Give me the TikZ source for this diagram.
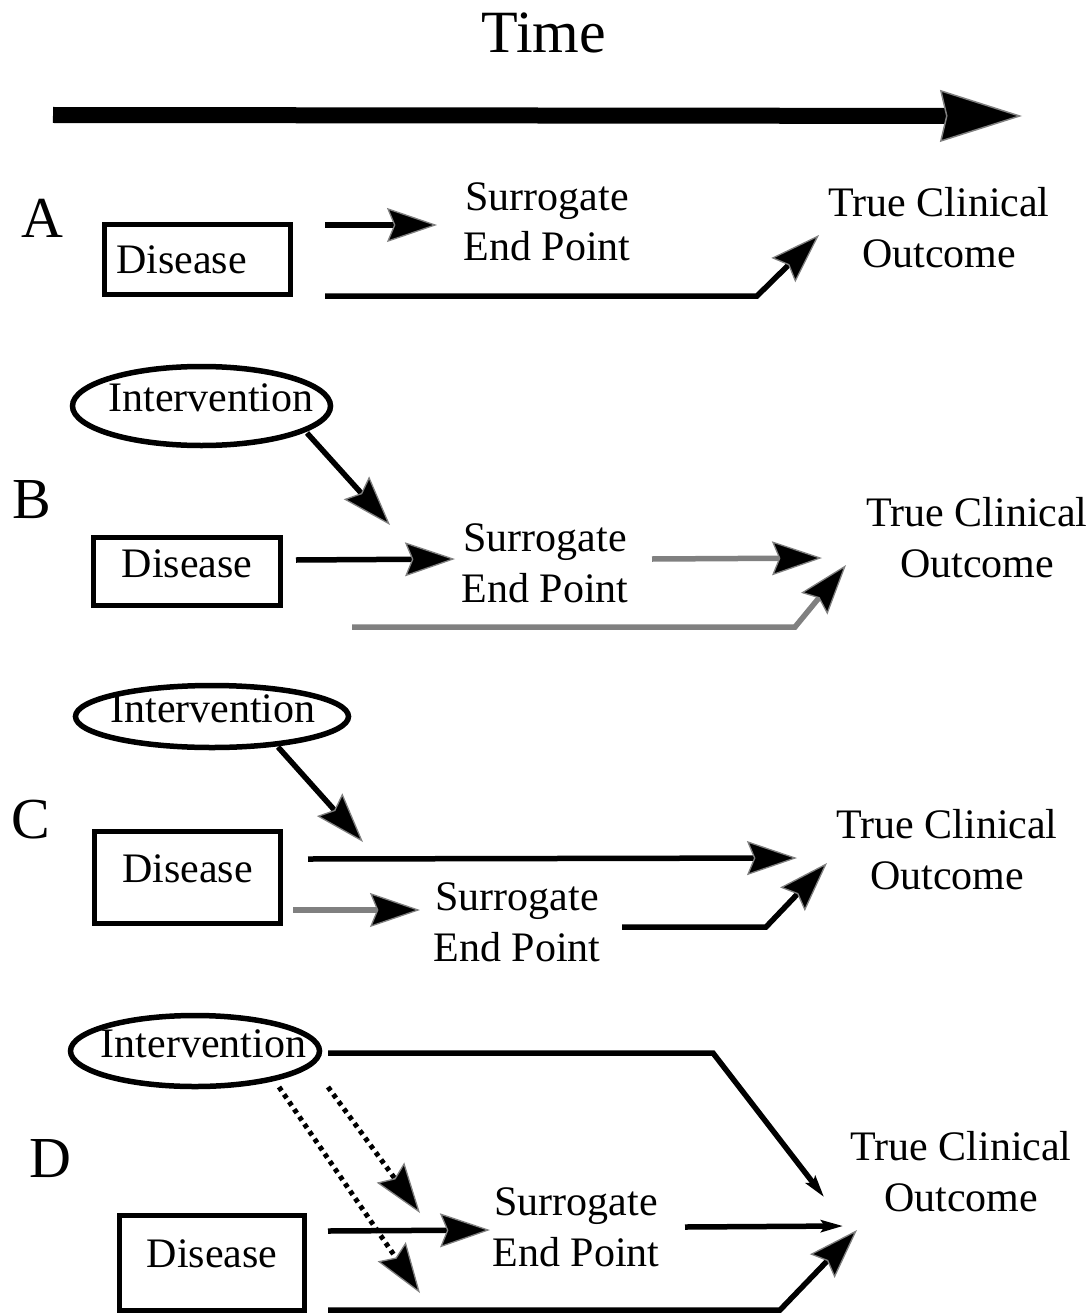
\documentclass[tikz,border=0pt]{standalone}
\usepackage{fontspec}
\setmainfont{Liberation Serif}
\usetikzlibrary{arrows.meta,shapes.geometric}
\tikzset{
  bigtip/.tip={Stealth[length=50pt,width=34pt,inset=7pt,line width=1.3pt,fill=black,color=gray]},
  thintip/.tip={Stealth[length=22pt,width=12pt,inset=4pt,fill=black,color=black]},
  lbl/.style={font=\fontsize{42}{51}\selectfont, inner sep=0pt},
  letter/.style={font=\fontsize{58}{66}\selectfont, inner sep=0pt, anchor=base west},
  dbox/.style={lbl, draw, line width=5.5pt, rectangle},
  ellip/.style={lbl, draw, line width=5.5pt, ellipse},
  conn/.style={line width=5.5pt, -bigtip},
  gconn/.style={conn, draw=gray},
  dotconn/.style={line width=5pt, dash pattern=on 4.5pt off 4.5pt, -bigtip},
  thinconn/.style={line width=5.5pt, -thintip},
}
\newcommand{\twoline}[2]{\begin{tabular}[t]{@{}c@{}}#1\\#2\end{tabular}}
\begin{document}
\begin{tikzpicture}[x=1pt,y=-1pt]
\useasboundingbox (0,0) rectangle (1091,1316);

% Time
\node[font=\fontsize{60}{72}\selectfont, inner sep=0pt, anchor=base] (time) at (544,53) {Time};
\coordinate (ts) at (53,115);
\coordinate (te) at (1022,116);
\draw[line width=16pt, -{Stealth[length=82pt,width=52pt,inset=6pt,line width=1.5pt,fill=black,color=gray]}] (ts) -- (te);

% ---------------- Panel A
\node[letter] (labA) at (21,237) {A};
\node[dbox, minimum width=186pt, minimum height=70pt, text height=40pt, text depth=13pt] (disA) at (197.5,259.5) {Disease\kern32pt};
\node[lbl, anchor=base] (surA) at (547,210) {\twoline{Surrogate}{End Point}};
\node[lbl, anchor=base] (tcoA) at (939,216) {\twoline{True Clinical}{Outcome}};
\coordinate (a1s) at (325,225);
\coordinate (a1e) at (437,225);
\coordinate (a2s) at (325,296);
\coordinate (a2k) at (757,296);
\coordinate (a2e) at (819,235);
\draw[conn] (a1s) -- (a1e);
\draw[conn] (a2s) -- (a2k) -- (a2e);

% ---------------- Panel B
\node[letter] (labB) at (12,518) {B};
\node[ellip, minimum width=258pt, minimum height=79pt, text height=15pt, text depth=5pt] (intB) at (201.5,406) {\makebox[0pt]{\kern19pt Intervention}};
\node[dbox, minimum width=187pt, minimum height=68pt, text height=32pt, text depth=21pt] (disB) at (187,571.5) {Disease};
\node[lbl, anchor=base] (surB) at (545,551) {\twoline{Surrogate}{End Point}};
\node[lbl, anchor=base] (tcoB) at (977,526) {\twoline{True Clinical}{Outcome}};
\coordinate (b1s) at (307,433);
\coordinate (b1e) at (390,525);
\coordinate (b2s) at (296,560);
\coordinate (b2e) at (455,559);
\coordinate (b3s) at (652,559);
\coordinate (b3e) at (822,558);
\coordinate (b4s) at (352,627);
\coordinate (b4k) at (795,627);
\coordinate (b4e) at (846,565);
\draw[conn] (b1s) -- (b1e);
\draw[conn] (b2s) -- (b2e);
\draw[gconn] (b3s) -- (b3e);
\draw[gconn] (b4s) -- (b4k) -- (b4e);

% ---------------- Panel C
\node[letter] (labC) at (11,838) {C};
\node[ellip, minimum width=273pt, minimum height=62pt, text height=17pt, text depth=6pt] (intC) at (212,716.5) {\makebox[0pt]{\kern2pt Intervention}};
\node[dbox, minimum width=186pt, minimum height=92pt, text height=30pt, text depth=21pt] (disC) at (187.5,877.5) {Disease};
\node[lbl, anchor=base] (surC) at (517,910) {\twoline{Surrogate}{End Point}};
\node[lbl, anchor=base] (tcoC) at (947,838) {\twoline{True Clinical}{Outcome}};
\coordinate (c1s) at (278,747);
\coordinate (c1e) at (363,842);
\coordinate (c2s) at (308,859);
\coordinate (c2e) at (797,858);
\coordinate (c3s) at (293,910);
\coordinate (c3e) at (420,910);
\coordinate (c4s) at (622,927);
\coordinate (c4k) at (766,927);
\coordinate (c4e) at (827,863);
\draw[conn] (c1s) -- (c1e);
\draw[conn] (c2s) -- (c2e);
\draw[gconn] (c3s) -- (c3e);
\draw[conn] (c4s) -- (c4k) -- (c4e);

% ---------------- Panel D
\node[letter] (labD) at (29,1177) {D};
\node[ellip, minimum width=249pt, minimum height=71pt, text height=16pt, text depth=4pt] (intD) at (195,1051) {\makebox[0pt]{\kern17pt Intervention}};
\node[dbox, minimum width=185pt, minimum height=95pt, text height=30pt, text depth=22pt] (disD) at (212,1263) {Disease};
\node[lbl, anchor=base] (surD) at (576,1215) {\twoline{Surrogate}{End Point}};
\node[lbl, anchor=base] (tcoD) at (961,1160) {\twoline{True Clinical}{Outcome}};
\coordinate (d1s) at (328,1053);
\coordinate (d1k) at (713,1053);
\coordinate (d1e) at (824,1197);
\coordinate (d2s) at (328,1087);
\coordinate (d2e) at (420,1213);
\coordinate (d3s) at (279,1087);
\coordinate (d3e) at (420,1293);
\coordinate (d4s) at (328,1231);
\coordinate (d4e) at (490,1230);
\coordinate (d5s) at (685,1227);
\coordinate (d5e) at (843,1226);
\coordinate (d6s) at (328,1310);
\coordinate (d6k) at (780,1310);
\coordinate (d6e) at (857,1230);
\draw[thinconn] (d1s) -- (d1k) -- (d1e);
\draw[dotconn] (d2s) -- (d2e);
\draw[dotconn] (d3s) -- (d3e);
\draw[conn] (d4s) -- (d4e);
\draw[thinconn] (d5s) -- (d5e);
\draw[conn] (d6s) -- (d6k) -- (d6e);
\end{tikzpicture}
\end{document}
